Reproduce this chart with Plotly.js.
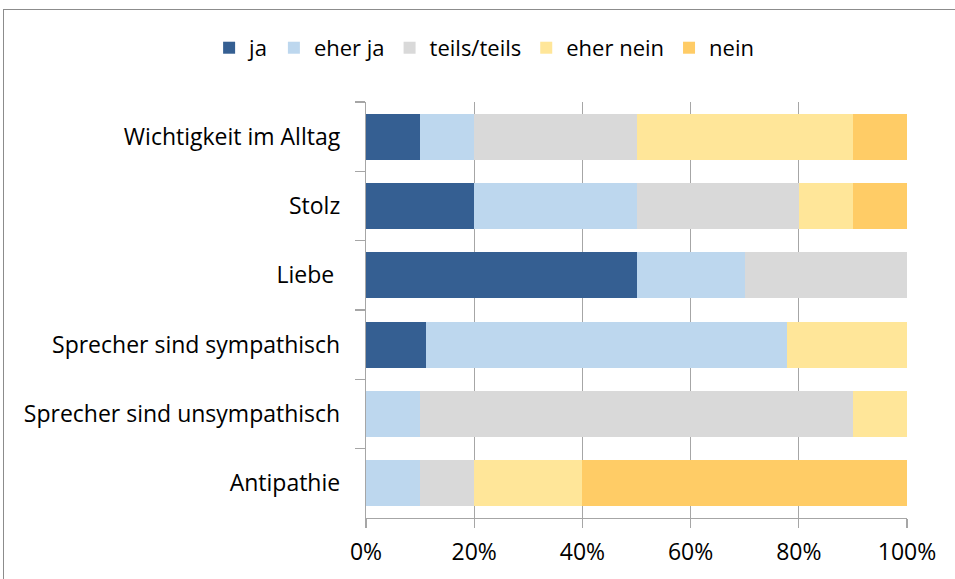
<!DOCTYPE html>
<html><head><meta charset="utf-8">
<script src="https://cdn.plot.ly/plotly-3.0.1.min.js"></script>
<style>
body{margin:0;padding:0;background:#fff;}
#frame{position:absolute;left:3px;top:9px;width:1000px;height:700px;border:1px solid #8c8c8c;box-sizing:border-box;pointer-events:none;z-index:5;}
#chart{width:955px;height:579px;}
</style></head>
<body>
<div id="frame"></div>
<div id="chart"></div>
<script>
const categories = ["Wichtigkeit im Alltag","Stolz","Liebe ","Sprecher sind sympathisch","Sprecher sind unsympathisch","Antipathie"];
const seriesNames = ["ja","eher ja","teils/teils","eher nein","nein"];
const ja        = [10, 20, 50, 11.1, 0, 0];
const eherJa    = [10, 30, 20, 66.7, 10, 10];
const teils     = [30, 30, 30, 0, 80, 10];
const eherNein  = [40, 10, 0, 22.2, 10, 20];
const nein      = [10, 10, 0, 0, 0, 60];
const tickVals  = [0, 20, 40, 60, 80, 100];
const tickText  = ["0%","20%","40%","60%","80%","100%"];
const colors = ["#355F92","#BDD7EE","#D9D9D9","#FFE699","#FFCC66"];

const values = [ja, eherJa, teils, eherNein, nein];
const traces = values.map((v,i)=>({
  type:"bar", orientation:"h", name:seriesNames[i], x:v, y:categories,
  marker:{color:colors[i], line:{width:0}}, hoverinfo:"x+name"
}));

const layout = {
  width:955, height:579,
  margin:{l:366, r:48, t:102, b:61},
  barmode:"stack", bargap:0.34,
  paper_bgcolor:"#fff", plot_bgcolor:"#fff",
  font:{family:"'Open Sans', sans-serif", size:23, color:"#000"},
  showlegend:true,
  legend:{orientation:"h", x:-0.29, xanchor:"left",
          y:1.13, yanchor:"middle", font:{size:22}, traceorder:"normal", itemwidth:30},
  xaxis:{range:[0,100], tickvals:tickVals, ticktext:tickText, showgrid:true,
         gridcolor:"#A6A6A6", gridwidth:1.2, zeroline:false, showline:true,
         linecolor:"#A6A6A6", linewidth:1.2, ticks:"outside", ticklen:9,
         tickcolor:"#A6A6A6", tickwidth:1.2, fixedrange:true, ticklabelstandoff:4},
  yaxis:{autorange:"reversed", showline:true, linecolor:"#A6A6A6", linewidth:1.2,
         ticks:"outside", tickson:"boundaries", ticklen:10, tickcolor:"#A6A6A6",
         tickwidth:1.2, showgrid:false, zeroline:false, ticklabelstandoff:20, fixedrange:true}
};
Plotly.newPlot("chart", traces, layout, {displayModeBar:false, staticPlot:true});
</script>
</body></html>
